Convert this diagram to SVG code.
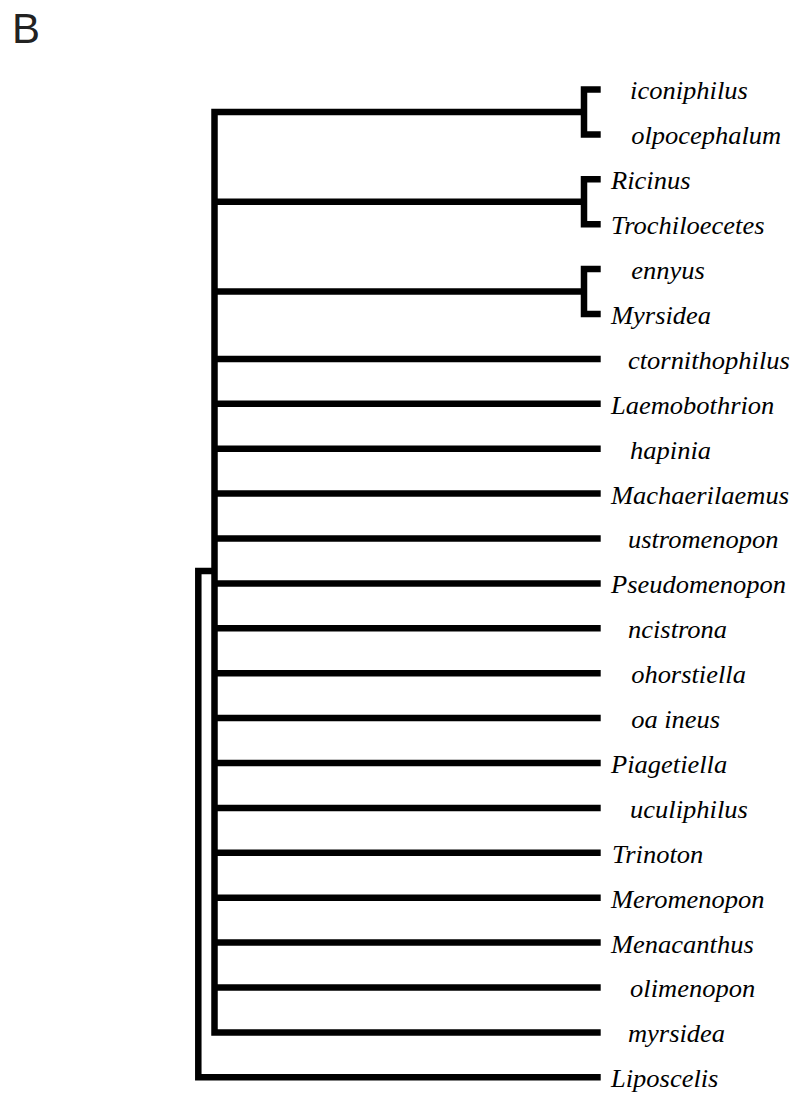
<svg xmlns="http://www.w3.org/2000/svg" width="798" height="1095" viewBox="0 0 798 1095">
<style>
.br{fill:none;stroke:#000;stroke-width:6.5;stroke-linejoin:miter;stroke-linecap:butt}
.lb{font-family:"Liberation Serif","Times New Roman",serif;font-style:italic;font-size:25px;fill:#000}
.pl{font-family:"Liberation Sans",Arial,sans-serif;font-size:42px;fill:#222}
</style>
<rect width="798" height="1095" fill="#fff"/>
<text class="pl" x="12" y="43">B</text>
<g id="connectors">
<path class="br" d="M584,112 H214.5 V1032.4 H600.7"/>
<path class="br" d="M214.5,571 H198.3 V1077.3 H600.7"/>
<path class="br" d="M214.5,201.8 H584"/>
<path class="br" d="M214.5,291.5 H584"/>
<path class="br" d="M600.7,89.5 H584 V134.4 H600.7"/>
<path class="br" d="M600.7,179.3 H584 V224.3 H600.7"/>
<path class="br" d="M600.7,269.1 H584 V314.1 H600.7"/>
<path class="br" d="M214.5,358.9 H600.7"/>
<path class="br" d="M214.5,403.8 H600.7"/>
<path class="br" d="M214.5,448.7 H600.7"/>
<path class="br" d="M214.5,493.6 H600.7"/>
<path class="br" d="M214.5,538.5 H600.7"/>
<path class="br" d="M214.5,583.4 H600.7"/>
<path class="br" d="M214.5,628.3 H600.7"/>
<path class="br" d="M214.5,673.2 H600.7"/>
<path class="br" d="M214.5,718.1 H600.7"/>
<path class="br" d="M214.5,763.0 H600.7"/>
<path class="br" d="M214.5,807.9 H600.7"/>
<path class="br" d="M214.5,852.8 H600.7"/>
<path class="br" d="M214.5,897.7 H600.7"/>
<path class="br" d="M214.5,942.6 H600.7"/>
<path class="br" d="M214.5,987.5 H600.7"/>
</g>
<g transform="translate(611,0) scale(1.06,1)">
<g id="n1"><text class="lb" x="18" y="99.5">iconiphilus</text></g>
<g id="n2"><text class="lb" x="19" y="144.4">olpocephalum</text></g>
<g id="n3"><text class="lb" x="0" y="189.3">Ricinus</text></g>
<g id="n4"><text class="lb" x="0" y="234.3">Trochiloecetes</text></g>
<g id="n5"><text class="lb" x="19" y="279.1">ennyus</text></g>
<g id="n6"><text class="lb" x="0" y="324.1">Myrsidea</text></g>
<g id="n7"><text class="lb" x="16" y="368.9">ctornithophilus</text></g>
<g id="n8"><text class="lb" x="0" y="413.8">Laemobothrion</text></g>
<g id="n9"><text class="lb" x="18" y="458.7">hapinia</text></g>
<g id="n10"><text class="lb" x="0" y="503.6">Machaerilaemus</text></g>
<g id="n11"><text class="lb" x="16" y="548.5">ustromenopon</text></g>
<g id="n12"><text class="lb" x="0" y="593.4">Pseudomenopon</text></g>
<g id="n13"><text class="lb" x="16" y="638.3">ncistrona</text></g>
<g id="n14"><text class="lb" x="19" y="683.2">ohorstiella</text></g>
<g id="n15"><text class="lb" x="19" y="728.1">oa ineus</text></g>
<g id="n16"><text class="lb" x="0" y="773.0">Piagetiella</text></g>
<g id="n17"><text class="lb" x="18" y="817.9">uculiphilus</text></g>
<g id="n18"><text class="lb" x="1" y="862.8">Trinoton</text></g>
<g id="n19"><text class="lb" x="0" y="907.7">Meromenopon</text></g>
<g id="n20"><text class="lb" x="0" y="952.6">Menacanthus</text></g>
<g id="n21"><text class="lb" x="18" y="997.5">olimenopon</text></g>
<g id="n22"><text class="lb" x="16" y="1042.4">myrsidea</text></g>
<g id="n23"><text class="lb" x="0" y="1087.3">Liposcelis</text></g>
</g>
</svg>
